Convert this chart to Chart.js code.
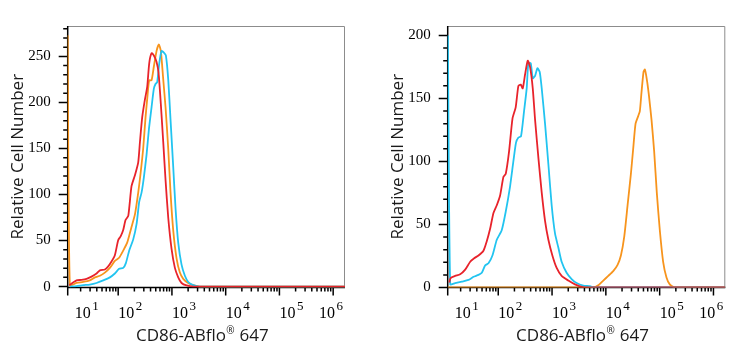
<!DOCTYPE html>
<html><head><meta charset="utf-8">
<script src="https://cdn.jsdelivr.net/npm/chart.js@4.4.0/dist/chart.umd.min.js"></script>
<style>
html,body{margin:0;padding:0;background:#fff;}
#wrap{position:relative;width:736px;height:350px;}
.box{position:absolute;top:0;width:368px;height:350px;}
</style></head><body>
<div id="wrap"><div class="box" style="left:0"><canvas id="c1"></canvas></div><div class="box" style="left:368px"><canvas id="c2"></canvas></div></div>
<script>
// ---- shared axis texts / ticks ----
const xAxisTitleParts = ['CD86-ABflo', '\u00AE', ' 647'];
const yAxisTitle = 'Relative Cell Number';
const decadeValues = [1e1, 1e2, 1e3, 1e4, 1e5, 1e6];
const decadeExponents = ['1', '2', '3', '4', '5', '6'];
const xMin = 11.5, xMax = 1.66e6;

// ---- left panel ----
const L_yLabels = [0, 50, 100, 150, 200, 250];
const L_yMin = -1, L_yMax = 283;
const L_red_x = [12.3, 16.8, 20.8, 25.8, 31.9, 39.6, 45.7, 56.5, 65.2, 75.2, 86.7, 100, 111, 124, 137, 154, 177, 205, 236, 254, 280, 314, 347, 378, 418, 461, 518, 564, 622, 689, 760, 853, 984, 1135, 1309, 1510, 1871, 2489, 1660000];
const L_red_y = [1.5, 6.7, 7.3, 8.4, 10.8, 14.2, 17.6, 18.6, 22, 27.2, 34, 50.4, 54.5, 61.4, 72.3, 76.7, 109, 121, 135, 157, 184, 203, 217, 242.5, 253.5, 251, 244, 232, 198, 157, 116, 75, 40.9, 20.3, 10.1, 3.9, 1.2, 0, 0];
const L_cyan_x = [12.6, 16.8, 22.3, 29.7, 39.6, 52.7, 70, 86.7, 104, 124, 139, 160, 190, 220, 246, 272, 301, 337, 373, 418, 461, 495, 532, 580, 641, 708, 771, 853, 942, 1057, 1167, 1309, 1510, 1742, 2009, 2489, 3311, 1660000];
const L_cyan_y = [0, 0.5, 1.5, 2.2, 3.9, 6.7, 10, 14.2, 19.3, 20.3, 25.5, 39, 51, 68, 92, 102, 119, 143, 171, 195, 215, 220, 222, 242, 256, 254, 251, 225, 181, 130, 85, 47.7, 23.8, 11.8, 5, 1.5, 0, 0];
const L_orange_x = [11.5, 12.6, 16.8, 22.3, 29.7, 36.9, 45.7, 56.5, 70, 86.7, 104, 124, 147, 177, 205, 236, 261, 292, 323, 352, 378, 418, 461, 518, 571, 622, 689, 760, 853, 942, 1057, 1219, 1406, 1622, 2009, 2489, 3311, 1660000];
const L_orange_y = [273, 1.5, 3.9, 5, 6.7, 10, 11.8, 15.2, 20.3, 27.9, 31.3, 39.1, 47.7, 64.8, 78.4, 102, 123, 150, 184, 208, 224, 224, 239, 256, 263, 256, 225, 195, 150, 102, 61, 30.6, 15.2, 8.4, 3.9, 1.5, 0, 0];

// ---- right panel ----
const R_yLabels = [0, 50, 100, 150, 200];
const R_yMin = 0, R_yMax = 207.5;
const R_red_x = [12.3, 13.0, 15.8, 19.6, 24.3, 30.1, 36.2, 42.9, 53.1, 61.2, 70.6, 81.5, 94, 108, 125, 138, 159, 184, 211, 237, 262, 285, 315, 353, 390, 438, 484, 557, 643, 741, 855, 1014, 1219, 1507, 2004, 2667, 3548, 4721, 1660000];
const R_red_y = [4, 7.5, 9.2, 10.5, 14.2, 20.4, 23.4, 25.4, 29.2, 36.7, 46.6, 59.1, 65.3, 72.8, 87.8, 90.3, 108, 134, 143, 160, 161, 158, 169, 180, 175, 158, 133, 103, 75.3, 52.9, 37.9, 25.4, 15.5, 9.2, 5.5, 2.5, 0.5, 0, 0];
const R_cyan_x = [11.6, 12.8, 15.8, 21, 28, 34.7, 42.9, 49.5, 57, 65.8, 78, 94, 116, 138, 166, 191, 214, 237, 265, 302, 338, 363, 402, 438, 484, 535, 590, 643, 741, 855, 984, 1135, 1309, 1507, 1866, 2312, 2864, 3811, 5058, 6266, 1660000];
const R_cyan_y = [200, 2.5, 3.5, 4.7, 6, 8.5, 10, 11.7, 17.5, 19.2, 25.4, 37.9, 45.4, 60.3, 80.3, 100, 115, 119, 120, 140, 158, 178, 178, 166, 168, 174, 171, 158, 130, 97.8, 65.3, 42.9, 31.7, 20.4, 11.7, 6.7, 3.5, 1.5, 1, 0, 0];
const R_orange_x = [11.6, 5834, 7228, 8954, 11090, 13710, 16520, 19050, 21980, 25350, 29240, 32210, 35650, 39900, 42850, 46030, 50120, 53090, 57810, 62950, 70630, 79070, 88510, 100700, 116100, 134000, 154200, 191000, 1660000];
const R_orange_y = [0, 0, 1.7, 5.5, 9.2, 13, 18, 25.4, 40.4, 65.3, 90.3, 110, 130, 136, 140, 155, 171, 173, 165, 153, 133, 108, 75.3, 45.4, 20.4, 8, 2.5, 0, 0];

const RED = '#E8232B', ORANGE = '#F7941D', CYAN = '#22C4F0';

// minor/major tick positions along the log axis (1..9 x 10^n)
const xTickValues = [];
decadeValues.forEach(d => { for (let m = 1; m <= 9; m++) { const v = m * d; if (v >= xMin && v <= xMax) xTickValues.push(v); } });

const axisDecor = {
  id: 'axisDecor',
  beforeDatasetsDraw(chart, args, opts) {
    const { ctx, chartArea: a, scales: { x, y } } = chart;
    ctx.save();
    ctx.strokeStyle = '#8c8c8c'; ctx.lineWidth = 1;
    ctx.beginPath();
    ctx.moveTo(a.left, a.top + 0.5); ctx.lineTo(a.right - 0.5, a.top + 0.5); ctx.lineTo(a.right - 0.5, a.bottom);
    ctx.stroke();
    ctx.strokeStyle = '#000'; ctx.lineWidth = 1.5;
    ctx.beginPath();
    ctx.moveTo(a.left, a.top); ctx.lineTo(a.left, a.bottom + 8);
    ctx.moveTo(a.left, a.bottom); ctx.lineTo(a.right, a.bottom);
    y.ticks.forEach(t => {
      const py = y.getPixelForValue(t.value);
      const len = opts.yLabels.includes(t.value) ? 9 : 4.5;
      ctx.moveTo(a.left, py); ctx.lineTo(a.left - len, py);
    });
    x.ticks.forEach(t => {
      const px = x.getPixelForValue(t.value);
      const len = decadeValues.includes(t.value) ? 8 : 4;
      ctx.moveTo(px, a.bottom); ctx.lineTo(px, a.bottom + len);
    });
    ctx.stroke();
    // decade labels 10^n
    ctx.fillStyle = '#000'; ctx.textAlign = 'left'; ctx.textBaseline = 'alphabetic';
    decadeValues.forEach((v, i) => {
      let px = x.getPixelForValue(v);
      if (px > a.right + 1) return;
      ctx.font = '16px "Liberation Serif"';
      const w = ctx.measureText('10').width;
      ctx.font = '13px "Liberation Serif"';
      const we = ctx.measureText(decadeExponents[i]).width;
      px = Math.max(px, a.left + 7);
      px = Math.min(px, a.right - 2 - (w + 1.5 + we));
      ctx.font = '16px "Liberation Serif"';
      ctx.fillText('10', px, a.bottom + 30.5);
      ctx.font = '13px "Liberation Serif"';
      ctx.fillText(decadeExponents[i], px + w + 1.5, a.bottom + 22);
    });
    // x-axis title with small raised registered mark
    const f1 = '17px "Open Sans"', f2 = '10px "Open Sans"';
    ctx.fillStyle = '#1a1a1a';
    ctx.font = f1; const w1 = ctx.measureText(xAxisTitleParts[0]).width; const w3 = ctx.measureText(xAxisTitleParts[2]).width;
    ctx.font = f2; const w2 = ctx.measureText(xAxisTitleParts[1]).width + 1;
    const total = w1 + w2 + w3;
    let tx = (a.left + a.right) / 2 - 4 - total / 2;
    const base = a.bottom + 53;
    ctx.font = f1; ctx.fillText(xAxisTitleParts[0], tx, base);
    ctx.font = f2; ctx.fillText(xAxisTitleParts[1], tx + w1 + 0.5, base - 6.5);
    ctx.font = f1; ctx.fillText(xAxisTitleParts[2], tx + w1 + w2, base);
    ctx.restore();
  }
};

function makeChart(id, cfg) {
  const datasets = cfg.series.map(s => ({
    data: s.x.map((xv, i) => ({ x: xv, y: s.y[i] })),
    borderColor: s.color, borderWidth: 1.8, pointRadius: 0, tension: 0.2, fill: false
  }));
  const yMinor = [];
  for (let v = 0; v <= cfg.yMax; v += 10) yMinor.push(v);
  return new Chart(document.getElementById(id), {
    type: 'line',
    data: { datasets },
    options: {
      responsive: true, maintainAspectRatio: false, animation: false,
      layout: { padding: { top: 10, right: cfg.padRight, left: cfg.padLeft, bottom: 0 } },
      plugins: { legend: { display: false }, tooltip: { enabled: false }, axisDecor: { yLabels: cfg.yLabels } },
      scales: {
        x: {
          type: 'logarithmic', min: xMin, max: xMax,
          grid: { display: false }, border: { display: false }, ticks: { display: false, autoSkip: false },
          title: { display: false },
          afterBuildTicks(s) { s.ticks = xTickValues.map(v => ({ value: v })); },
          afterFit(s) { s.height = 62.5; }
        },
        y: {
          type: 'linear', min: cfg.yMin, max: cfg.yMax,
          grid: { display: true, drawOnChartArea: false, drawTicks: false }, border: { display: false },
          ticks: { padding: 17, color: '#000', autoSkip: false, font: { family: '"Liberation Serif"', size: 15 },
                   callback: (v) => cfg.yLabels.includes(v) ? String(v) : '' },
          title: { display: true, text: yAxisTitle, color: '#1a1a1a', font: { family: '"Open Sans"', size: 17 }, padding: { top: 8, bottom: 0 } },
          afterBuildTicks(s) { s.ticks = yMinor.map(v => ({ value: v })); },
          afterFit(s) { s.width = 67.7; }
        }
      }
    },
    plugins: [axisDecor]
  });
}

makeChart('c1', {
  yMin: L_yMin, yMax: L_yMax, yLabels: L_yLabels, padLeft: 0, padRight: 23,
  series: [
    { x: L_red_x, y: L_red_y, color: RED },
    { x: L_cyan_x, y: L_cyan_y, color: CYAN },
    { x: L_orange_x, y: L_orange_y, color: ORANGE }
  ]
});
makeChart('c2', {
  yMin: R_yMin, yMax: R_yMax, yLabels: R_yLabels, padLeft: 12, padRight: 10.7,
  series: [
    { x: R_red_x, y: R_red_y, color: RED },
    { x: R_cyan_x, y: R_cyan_y, color: CYAN },
    { x: R_orange_x, y: R_orange_y, color: ORANGE }
  ]
});
</script>
</body></html>
